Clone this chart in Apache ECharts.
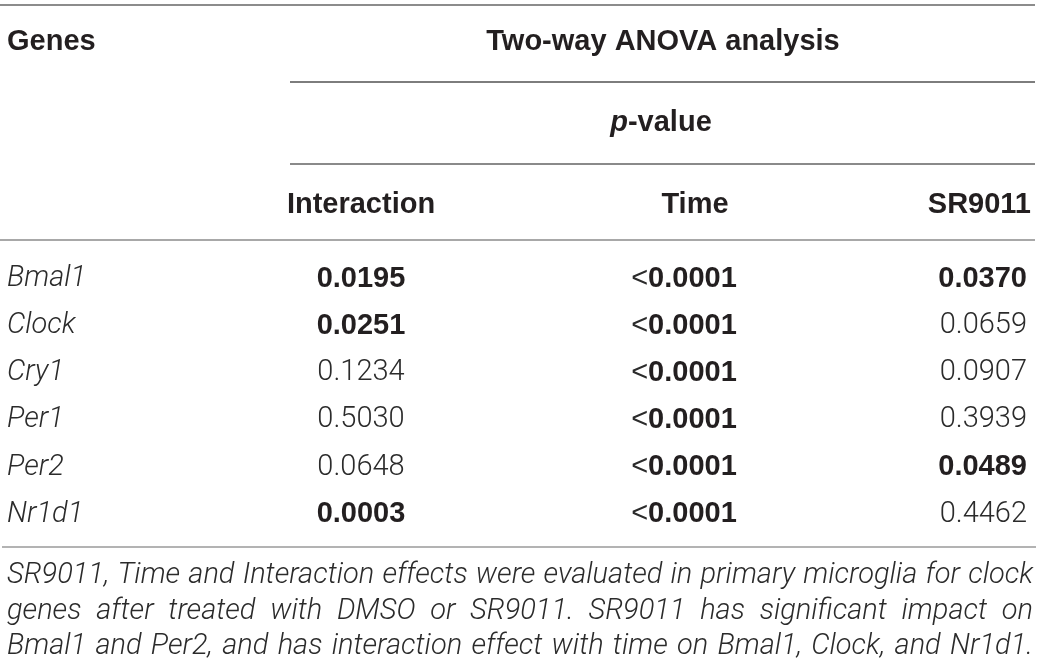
<!DOCTYPE html>
<html>
<head>
<meta charset="utf-8">
<script src="https://cdn.jsdelivr.net/npm/echarts@6/dist/echarts.min.js"></script>
<style>
  html, body { margin: 0; padding: 0; background: #fff; }
  #table { width: 1041px; height: 669px; }
</style>
</head>
<body>
<div id="table"></div>
<script>
// table content
var genes = ['Bmal1', 'Clock', 'Cry1', 'Per1', 'Per2', 'Nr1d1'];
var columnHeaders = ['Interaction', 'Time', 'SR9011'];
var interactionP = ['0.0195', '0.0251', '0.1234', '0.5030', '0.0648', '0.0003'];
var timeP = ['<0.0001', '<0.0001', '<0.0001', '<0.0001', '<0.0001', '<0.0001'];
var sr9011P = ['0.0370', '0.0659', '0.0907', '0.3939', '0.0489', '0.4462'];
var captionLines = [
    'SR9011, Time and Interaction effects were evaluated in primary microglia for clock',
    'genes after treated with DMSO or SR9011. SR9011 has significant impact on',
    'Bmal1 and Per2, and has interaction effect with time on Bmal1, Clock, and Nr1d1.'
];
var alpha = 0.05;

// layout
var W = 1041;
var colX = [7, 361, 684, 1027];
var colAlign = ['left', 'center', 'center', 'right'];
var ink = '#231f20';
var grey = '#2b2b2b';
var boldFont = 'Liberation Sans';
var lightFont = 'Roboto';
var fs = 29;

function isSignificant(s) {
    if (s.charAt(0) === '<') return true;
    return parseFloat(s) < alpha;
}

// one entry per body cell: [x, rowIndex], plus how to draw it
var cells = [];
var columns = [null, interactionP, timeP, sr9011P];
genes.forEach(function (g, r) {
    cells.push({ value: [colX[0], r], text: g, kind: 'gene', col: 0 });
    for (var c = 1; c < columns.length; c++) {
        var v = columns[c][r];
        cells.push({ value: [colX[c], r], text: v, kind: isSignificant(v) ? 'bold' : 'light', col: c });
    }
});

function cellStyle(cell) {
    var st = {
        fill: ink,
        align: colAlign[cell.col],
        textAlign: colAlign[cell.col],
        verticalAlign: 'middle',
        textVerticalAlign: 'middle'
    };
    if (cell.kind === 'gene') {
        st.text = cell.text;
        st.font = 'italic 300 ' + fs + 'px ' + lightFont;
        st.fill = grey;
    } else if (cell.kind === 'light') {
        st.text = cell.text;
        st.font = '300 ' + fs + 'px ' + lightFont;
        st.fill = grey;
    } else if (cell.text.charAt(0) === '<') {
        st.text = '{lt|<}{b|' + cell.text.slice(1) + '}';
        st.rich = {
            lt: { fontFamily: boldFont, fontWeight: 'normal', fontSize: fs, fill: grey, color: grey },
            b: { fontFamily: boldFont, fontWeight: 'bold', fontSize: fs, fill: ink, color: ink }
        };
    } else {
        st.text = cell.text;
        st.font = 'bold ' + fs + 'px "' + boldFont + '"';
    }
    return st;
}

function header(text, x, y, align, rich) {
    var st = {
        text: text, fill: ink,
        font: 'bold ' + fs + 'px "' + boldFont + '"',
        align: align, textAlign: align,
        verticalAlign: 'middle', textVerticalAlign: 'middle'
    };
    if (rich) st.rich = rich;
    return { type: 'text', x: x, y: y, style: st, z: 10 };
}

function rule(x1, x2, y, color) {
    return {
        type: 'line', shape: { x1: x1, y1: y, x2: x2, y2: y },
        style: { stroke: color, lineWidth: 2 }
    };
}

// justified caption, one text element per word
var captionFont = 'italic 300 29px ' + lightFont;
var measure = document.createElement('canvas').getContext('2d');
measure.font = captionFont;
function captionElements() {
    var out = [];
    var left = 7, right = 1033;
    captionLines.forEach(function (line, i) {
        var words = line.split(' ');
        var widths = words.map(function (w) { return measure.measureText(w).width; });
        var total = widths.reduce(function (a, b) { return a + b; }, 0);
        var gap = (right - left - total) / (words.length - 1);
        var x = left;
        words.forEach(function (w, k) {
            out.push({
                type: 'text', x: x, y: 576 + i * 35.5,
                style: {
                    text: w, font: captionFont, fill: grey,
                    align: 'left', textAlign: 'left',
                    verticalAlign: 'middle', textVerticalAlign: 'middle'
                }
            });
            x += widths[k] + gap;
        });
    });
    return out;
}

var chart = echarts.init(document.getElementById('table'), null, { renderer: 'canvas' });

var graphics = [
    rule(0, 1035, 5, '#8c8c8c'),
    rule(290, 1035, 82, '#7d7d7d'),
    rule(290, 1035, 164, '#8a8a8a'),
    rule(0, 1035, 240, '#a8a8a8'),
    rule(2, 1036, 547, '#b3b3b3'),
    header('Genes', 7, 42, 'left'),
    header('Two-way ANOVA analysis', 663, 42, 'center'),
    header('{p|p}{t|-value}', 661, 123, 'center', {
        p: { fontFamily: boldFont, fontWeight: 'bold', fontStyle: 'italic', fontSize: fs, fill: ink, color: ink },
        t: { fontFamily: boldFont, fontWeight: 'bold', fontSize: fs, fill: ink, color: ink }
    }),
    header(columnHeaders[0], colX[1], 205, 'center'),
    header(columnHeaders[1], 695, 205, 'center'),
    header(columnHeaders[2], 1031, 205, 'right')
].concat(captionElements());

chart.setOption({
    backgroundColor: '#fff',
    animation: false,
    grid: { left: 0, right: 0, top: 255, bottom: 131 },
    xAxis: { type: 'value', min: 0, max: W, show: false },
    yAxis: { type: 'category', data: genes, inverse: true, show: false },
    graphic: graphics,
    series: [{
        type: 'custom',
        clip: false,
        data: cells.map(function (c) { return c.value; }),
        renderItem: function (params, api) {
            var cell = cells[params.dataIndex];
            var p = api.coord([api.value(0), api.value(1)]);
            return { type: 'text', x: p[0], y: p[1], style: cellStyle(cell) };
        }
    }]
});
</script>
</body>
</html>
